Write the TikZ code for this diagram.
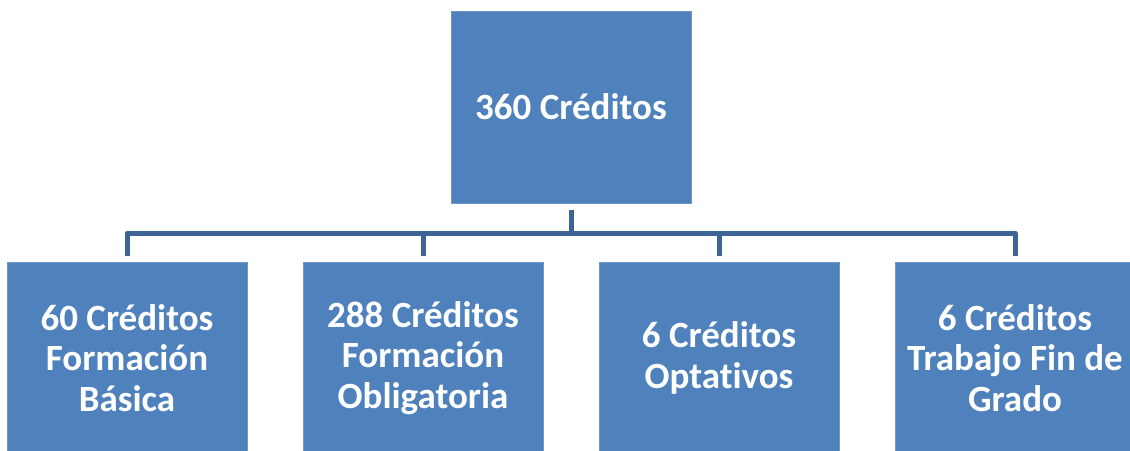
\documentclass[tikz,border=0pt]{standalone}
\usepackage{fontspec}
\setmainfont{Carlito}[Ligatures={NoCommon,NoContextual}, Contextuals=NoAlternate]
\definecolor{boxblue}{HTML}{4F81BD}
\definecolor{boxedge}{HTML}{7096C8}
\definecolor{linkblue}{HTML}{3E6496}
\begin{document}
\begin{tikzpicture}[x=1pt,y=-1pt,
  credbox/.style={rectangle, fill=boxblue, draw=boxedge, line width=1pt,
    minimum width=240pt, minimum height=192pt, inner sep=0pt,
    text=white, align=center, font=\bfseries\fontsize{37}{40.5}\selectfont},
  link/.style={draw=linkblue, line width=5pt, line join=round, shorten <=6pt, shorten >=6pt}]
\useasboundingbox (0,0) rectangle (1130,450);
\clip (0,0) rectangle (1130,450);
\node[credbox] (top) at (571,107) {360 Créditos};
\node[credbox] (b1) at (127,358) {60 Créditos\\Formación\\Básica};
\node[credbox] (b2) at (423,358) {288 Créditos\\Formación\\Obligatoria};
\node[credbox] (b3) at (719,358) {6 Créditos\\Optativos};
\node[credbox] (b4) at (1015,358) {6 Créditos\\Trabajo Fin de\\Grado};
\coordinate (bus) at (571,233);
\foreach \b in {b1,b2,b3,b4}{
  \draw[link] (top.south) -- (bus) -| (\b.north);
}
\end{tikzpicture}
\end{document}
